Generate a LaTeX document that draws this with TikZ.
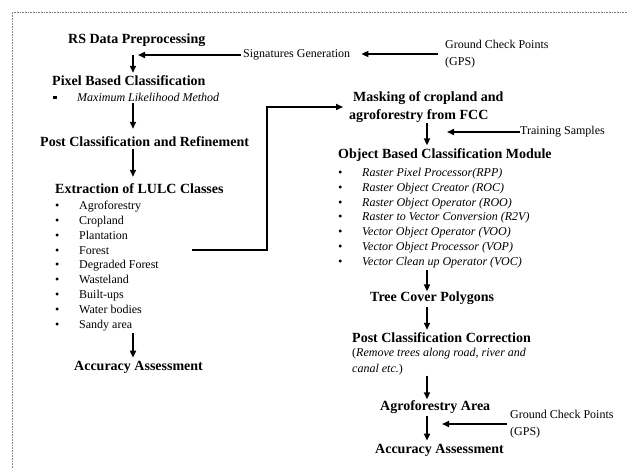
\documentclass[tikz,border=0pt]{standalone}
\usepackage{fontspec}
\setmainfont{Liberation Serif}
\usetikzlibrary{arrows.meta}
\tikzset{
  heading/.style={
    inner sep=0pt,
    align=left,
    font=\fontsize{14}{18}\selectfont\bfseries,
  },
  remark/.style={
    inner sep=0pt,
    align=left,
    font=\fontsize{12}{16.5}\selectfont,
  },
  entries/.style={
    inner sep=0pt,
    align=left,
    font=\fontsize{12}{14.8}\selectfont,
  },
  flow/.style={
    -{Triangle[length=7pt,width=6pt]},
    line width=1.6pt,
    shorten <=2pt,
    shorten >=3pt,
  },
  frame/.style={
    densely dotted,
    gray,
    line width=0.6pt,
  }
}
\newcommand{\dotitem}{\makebox[24pt][l]{\textbullet}}
\newcommand{\squareitem}{\makebox[24pt][l]{\raisebox{2pt}{\rule{3.5pt}{3.5pt}}}}

\begin{document}
\begin{tikzpicture}[x=1pt,y=-1pt]
  \useasboundingbox (0,0) rectangle (627,468);
  \draw[frame] (12,468) |- (627,12);

  \coordinate (left-axis) at (133,0);
  \coordinate (right-axis) at (427,0);

  % Left column
  \node [heading, anchor=west] (rs) at (68,40) {RS Data Preprocessing};
  \node [remark, anchor=west] (sig) at (243,55) {Signatures Generation};
  \node [remark, anchor=west] (gcp-top) at (445,54) {Ground Check Points\\(GPS)};
  \node [heading, anchor=west] (pixel) at (52,81) {Pixel Based Classification};
  \node [entries, anchor=west] (mlm) at (53,97)
    {\squareitem\textit{Maximum Likelihood Method}};
  \node [heading, anchor=west] (post) at (40,142) {Post Classification and Refinement};
  \node [heading, anchor=west] (lulc) at (55,189) {Extraction of LULC Classes};
  \node [entries, anchor=north west] (lulc-list) at (55,201)
    {\dotitem Agroforestry\\
     \dotitem Cropland\\
     \dotitem Plantation\\
     \dotitem Forest\\
     \dotitem Degraded Forest\\
     \dotitem Wasteland\\
     \dotitem Built-ups\\
     \dotitem Water bodies\\
     \dotitem Sandy area};
  \node [heading, anchor=west] (acc-left) at (74,367) {Accuracy Assessment};
  \coordinate (forest-end) at (192,250);

  % Right column
  \node [heading, anchor=west] (masking) at (349,107)
    {\hspace{4pt}Masking of cropland and\\agroforestry from FCC};
  \node [remark, anchor=west] (training) at (520,132) {Training Samples};
  \node [heading, anchor=west] (obc) at (338,155) {Object Based Classification Module};
  \node [entries, anchor=north west, font=\fontsize{12}{14.8}\selectfont\itshape] (obc-list) at (338,168)
    {\dotitem Raster Pixel Processor(RPP)\\
     \dotitem Raster Object Creator (ROC)\\
     \dotitem Raster Object Operator (ROO)\\
     \dotitem Raster to Vector Conversion (R2V)\\
     \dotitem Vector Object Operator (VOO)\\
     \dotitem Vector Object Processor (VOP)\\
     \dotitem Vector Clean up Operator (VOC)};
  \node [heading, anchor=west] (tree) at (370,298) {Tree Cover Polygons};
  \node [heading, anchor=west] (pcc) at (352,338) {Post Classification Correction};
  \node [remark, anchor=west, font=\fontsize{12}{16}\selectfont] (pcc-note) at (352,362)
    {(\textit{Remove trees along road, river and}\\\textit{canal etc.})};
  \node [heading, anchor=west] (agro) at (380,407) {Agroforestry Area};
  \node [remark, anchor=west] (gcp-bottom) at (510,424) {Ground Check Points\\(GPS)};
  \node [heading, anchor=west] (acc-right) at (375,450) {Accuracy Assessment};

  % Left column edges
  \draw[flow, shorten <=8pt] (rs.south -| left-axis) -- (pixel.north -| left-axis);
  \draw[flow, shorten >=8pt] (mlm.south -| left-axis) -- (post.north -| left-axis);
  \draw[flow, shorten >=7pt] (post.south -| left-axis) -- (lulc.north -| left-axis);
  \draw[flow] (lulc-list.south -| left-axis) -- (acc-left.north -| left-axis);
  \draw[flow, shorten >=5pt] (sig.west) -- (sig.west -| left-axis);
  \draw[flow, shorten <=7pt, shorten >=11pt] (gcp-top.west) -- (sig.east |- gcp-top.west);

  % Right column edges
  \draw[flow, shorten <=0pt, shorten >=6pt] (forest-end) -- ++(75,0) |- (masking.west);
  \draw[flow, shorten <=0pt] (masking.south -| right-axis) -- (obc.north -| right-axis);
  \draw[flow, shorten <=0pt, shorten >=20pt] (training.west) -- (training.west -| right-axis);
  \draw[flow, shorten >=0pt] (obc-list.south -| right-axis) -- (tree.north -| right-axis);
  \draw[flow] (tree.south -| right-axis) -- (pcc.north -| right-axis);
  \draw[flow, shorten <=0pt, shorten >=1pt] (pcc-note.south -| right-axis) -- (agro.north -| right-axis);
  \draw[flow] (agro.south -| right-axis) -- (acc-right.north -| right-axis);
  \draw[flow, shorten <=3pt, shorten >=15pt] (gcp-bottom.west) -- (gcp-bottom.west -| right-axis);
\end{tikzpicture}
\end{document}
